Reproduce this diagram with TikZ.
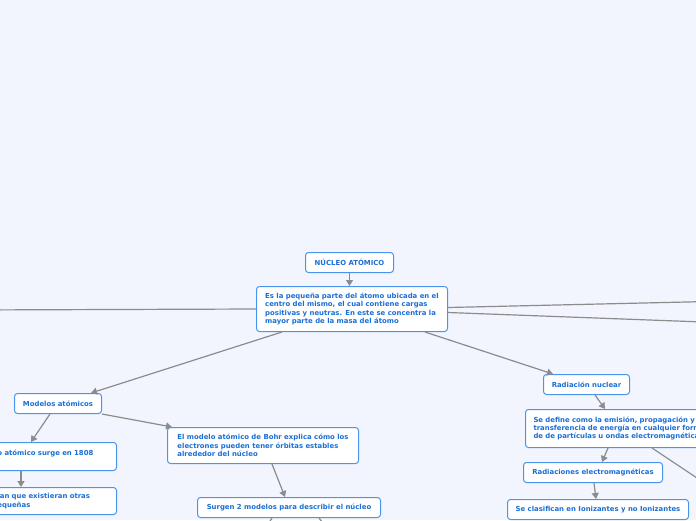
\documentclass[tikz,border=0pt]{standalone}
\usepackage{fontspec}
\setmainfont{DejaVu Sans}
\usetikzlibrary{arrows.meta}
\definecolor{fondo}{HTML}{F2F5FE}
\definecolor{borde}{HTML}{4A94EE}
\definecolor{texto}{HTML}{1A6FD6}
\definecolor{linea}{HTML}{8C8C8C}
\begin{document}
\begin{tikzpicture}[x=1pt, y=-1pt, >={Triangle[width=7pt,length=6pt]},
		caja/.style={draw=borde, fill=white, rounded corners=3pt, line width=1pt, text=texto,
			font=\fontsize{6.9}{8.3}\selectfont\bfseries, inner xsep=8pt, inner ysep=0pt,
			anchor=north west, minimum height=20pt, align=left},
		flecha/.style={->, draw=linea, line width=1.2pt},
		tramo/.style={draw=linea, line width=1.2pt}]
	% 1. fondo y recorte (la hoja muestra solo una parte del mapa)
	\useasboundingbox (0,0) rectangle (696,520);
	\clip (0,0) rectangle (696,520);
	\fill[fondo] (0,0) rectangle (696,520);
	
	% 2. puntos libres fuera de la hoja
	\coordinate (fueraIzq) at (-30,310);
	\coordinate (fueraDer1) at (730,301);
	\coordinate (fueraDer2) at (730,323);
	\coordinate (fueraAbajo) at (730,500);
	\coordinate (hijoIzq) at (255,545);
	\coordinate (hijoDer) at (340,545);
	
	% 3. nodos
	\node[caja, minimum width=88pt] (nucleo) at (305,252) {NÚCLEO ATÓMICO};
	\node[caja, minimum width=191pt, minimum height=45pt] (nucleoDef) at (256,286) {Es la pequeña parte del átomo ubicada en el\\centro del mismo, el cual contiene cargas\\positivas y neutras. En este se concentra la\\mayor parte de la masa del átomo};
	\node[caja, minimum width=87pt] (modelos) at (14,393) {Modelos atómicos};
	\node[caja, minimum width=191pt, minimum height=36pt] (bohr) at (167,427) {El modelo atómico de Bohr explica cómo los\\electrones pueden tener órbitas estables\\alrededor del núcleo};
	\node[caja, anchor=north east, text width=111pt, minimum height=28pt] (modelo1808) at (117,442) {o atómico surge en 1808\\\mbox{}};
	\node[caja, anchor=north east, text width=111pt, minimum height=27pt] (pequenas) at (117,487) {ian que existieran otras\\equeñas};
	\node[caja, minimum width=183pt] (surgen) at (197,497) {Surgen 2 modelos para describir el núcleo};
	\node[caja, minimum width=86pt] (radiacion) at (543,374) {Radiación nuclear};
	\node[caja, text width=200pt, minimum height=38pt] (defRad) at (525,409) {Se define como la emisión, propagación y\\transferencia de energía en cualquier forma\\de de partículas u ondas electromagnéticas};
	\node[caja, minimum width=139pt] (electro) at (523,462) {Radiaciones electromagnéticas};
	\node[caja, minimum width=181pt] (clasif) at (507,499) {Se clasifican en Ionizantes y no Ionizantes};
	
	% 4. conectores
	\draw[flecha] (nucleo.south) -- (nucleo.south |- nucleoDef.north);
	\draw[tramo] (nucleoDef.west) -- (fueraIzq);
	\draw[tramo] ([yshift=1.5pt]nucleoDef.east) -- (fueraDer1);
	\draw[tramo] ([yshift=-3.5pt]nucleoDef.east) -- (fueraDer2);
	\draw[flecha] ([xshift=26pt]nucleoDef.south west) -- ([xshift=77pt]modelos.north west);
	\draw[flecha] ([xshift=-23pt]nucleoDef.south east) -- ([xshift=10pt]radiacion.north west);
	\draw[flecha] ([xshift=36pt]modelos.south west) -- ([xshift=42pt]modelo1808.north west);
	\draw[flecha] (modelos.south east) -- ([xshift=5pt]bohr.north west);
	\draw[flecha] ([xshift=32pt]modelo1808.south west) -- ([xshift=32pt]pequenas.north west);
	\draw[flecha] ([xshift=105pt]bohr.south west) -- ([xshift=88pt]surgen.north west);
	\draw[flecha] ([xshift=75pt]surgen.south west) -- (hijoIzq);
	\draw[flecha] ([xshift=122pt]surgen.south west) -- (hijoDer);
	\draw[flecha] ([xshift=52pt]radiacion.south west) -- ([xshift=80pt]defRad.north west);
	\draw[flecha] ([xshift=83pt]defRad.south west) -- ([xshift=79pt]electro.north west);
	\draw[flecha] ([xshift=127pt]defRad.south west) -- (fueraAbajo);
	\draw[flecha] ([xshift=71pt]electro.south west) -- ([xshift=89pt]clasif.north west);
\end{tikzpicture}
\end{document}
